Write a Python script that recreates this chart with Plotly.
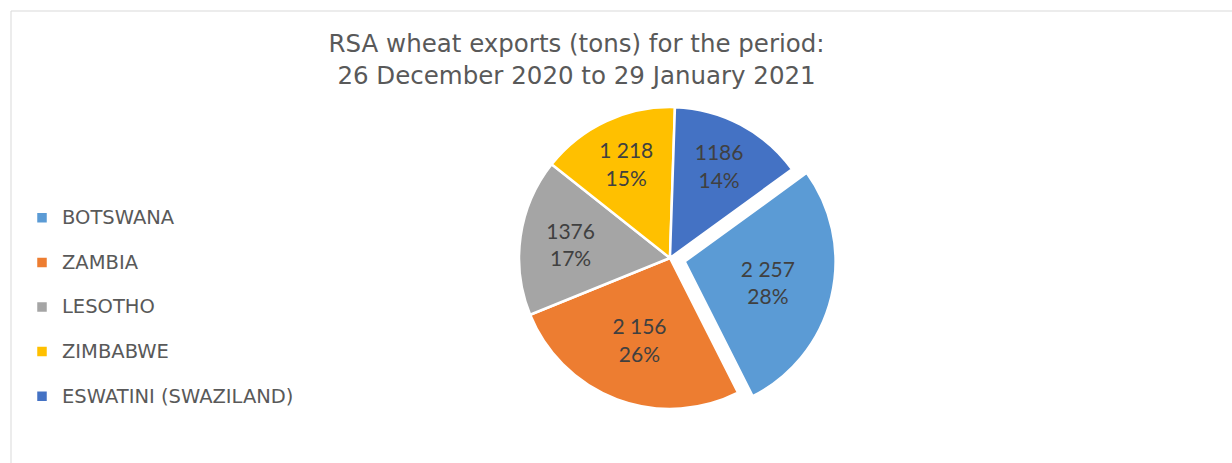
import plotly.graph_objects as go

# RSA wheat exports by destination, 26 Dec 2020 - 29 Jan 2021 (tons)
countries = ["BOTSWANA", "ZAMBIA", "LESOTHO", "ZIMBABWE", "ESWATINI (SWAZILAND)"]
tons = [2257, 2156, 1376, 1218, 1186]
tons_display = ["2 257", "2 156", "1376", "1 218", "1186"]
colors = ["#5B9BD5", "#ED7D31", "#A5A5A5", "#FFC000", "#4472C4"]
pull = [0.1, 0, 0, 0, 0]

W, H = 1232, 463
LEGEND_TEXT = '<span style="font-size:19.5px;baseline-shift:6px">{}</span>'

fig = go.Figure(
    go.Pie(
        labels=[LEGEND_TEXT.format(c) for c in countries],
        values=tons,
        text=tons_display,
        texttemplate="%{text}<br>%{percent:.0%}",
        textposition="inside",
        insidetextorientation="horizontal",
        insidetextfont=dict(family="Lato, Open Sans, sans-serif", size=21, color="#404040"),
        sort=False,
        direction="clockwise",
        rotation=54,
        pull=pull,
        marker=dict(colors=colors, line=dict(color="white", width=2.5)),
        domain=dict(x=[0.409, 0.6786], y=[0.0842, 0.8013]),
        hoverinfo="label+value+percent",
    )
)

fig.update_layout(
    width=W,
    height=H,
    margin=dict(l=0, r=0, t=0, b=0),
    paper_bgcolor="white",
    plot_bgcolor="white",
    title=dict(
        text="RSA wheat exports (tons) for the period:<br>26 December 2020 to 29 January 2021",
        x=0.468,
        xanchor="center",
        y=1 - 52 / H,
        yanchor="top",
        font=dict(family="DejaVu Sans, sans-serif", size=24.5, color="#595959"),
    ),
    legend=dict(
        x=22 / W,
        xanchor="left",
        y=1 - 307 / H,
        yanchor="middle",
        font=dict(family="DejaVu Sans, sans-serif", size=32, color="#595959"),
        bgcolor="rgba(0,0,0,0)",
    ),
    shapes=[
        dict(type="line", xref="paper", yref="paper", x0=11 / W, x1=1, y0=1 - 11 / H, y1=1 - 11 / H,
             line=dict(color="#D9D9D9", width=1)),
        dict(type="line", xref="paper", yref="paper", x0=11 / W, x1=11 / W, y0=0, y1=1 - 11 / H,
             line=dict(color="#D9D9D9", width=1)),
    ],
)

fig.write_html("out.html")
